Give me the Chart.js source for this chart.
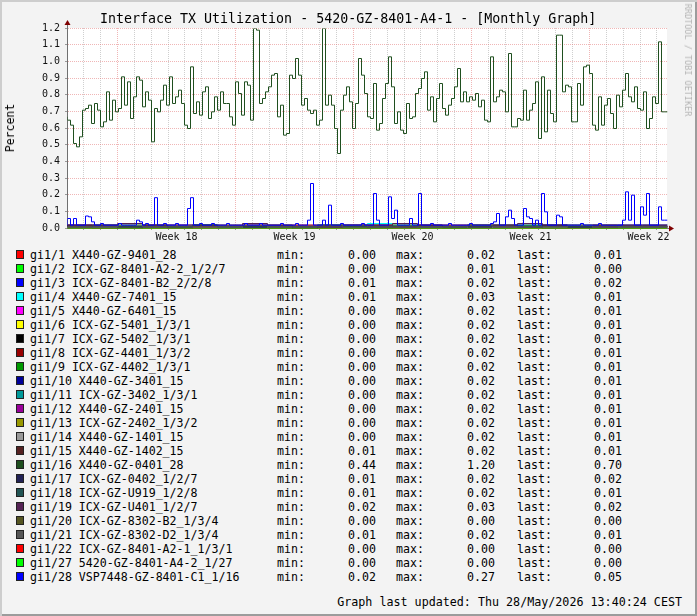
<!DOCTYPE html>
<html>
<head>
<meta charset="utf-8">
<script src="https://cdn.jsdelivr.net/npm/chart.js@4.4.1/dist/chart.umd.min.js"></script>
<style>
  html, body { margin: 0; padding: 0; background: #fff; }
  #frame {
    position: relative; width: 697px; height: 616px; overflow: hidden;
    background: #f3f3f3;
    box-shadow: inset 2px 2px 0 #cdcdcd, inset -2px -2px 0 #9c9c9c;
    font-family: "DejaVu Sans Mono", monospace; color: #000;
  }
  #plot { position: absolute; left: 0; top: 0; }
  .title { position: absolute; left: 100px; top: 10px; font-size: 13.3px; line-height: 18px; white-space: pre; }
  .vlabel { position: absolute; left: 10px; top: 128px; font-size: 11.5px; white-space: pre;
            transform: translate(-50%, -50%) rotate(-90deg); }
  .mark { position: absolute; left: 688px; top: 60px; font-size: 8.5px; color: #b4b4b4; white-space: pre;
          transform: translate(-50%, -50%) rotate(90deg); }
  .row { position: absolute; left: 0; height: 14px; width: 697px; font-size: 11.6px; line-height: 14px; white-space: pre; }
  .row span { position: absolute; top: 0; }
  .box { position: absolute; left: 16px; top: 2px; width: 8px; height: 9px; box-sizing: border-box; border: 1px solid #222; }
  .num { text-align: right; width: 60px; }
  .foot { position: absolute; right: 15px; top: 594px; font-size: 11.7px; line-height: 16px; white-space: pre; }
</style>
</head>
<body>
<div id="frame">
  <canvas id="plot" width="697" height="245"></canvas>
  <div class="title">Interface TX Utilization - 5420-GZ-8401-A4-1 - [Monthly Graph]</div>
  <div class="vlabel">Percent</div>
  <div class="mark">RRDTOOL / TOBI OETIKER</div>
  <div id="legend"></div>
  <div class="foot">Graph last updated: Thu 28/May/2026 13:40:24 CEST</div>
</div>
<script>
const weekLabels = ["Week 18", "Week 19", "Week 20", "Week 21", "Week 22"];
const spanDays = 35.6;   // days shown across the graph
const firstWeek = 3;     // days from graph start to the first week line

const ports = [
    "gi1/1 X440-GZ-9401_28", "gi1/2 ICX-GZ-8401-A2-2_1/2/7", "gi1/3 ICX-GZ-8401-B2_2/2/8",
    "gi1/4 X440-GZ-7401_15", "gi1/5 X440-GZ-6401_15", "gi1/6 ICX-GZ-5401_1/3/1",
    "gi1/7 ICX-GZ-5402_1/3/1", "gi1/8 ICX-GZ-4401_1/3/2", "gi1/9 ICX-GZ-4402_1/3/1",
    "gi1/10 X440-GZ-3401_15", "gi1/11 ICX-GZ-3402_1/3/1", "gi1/12 X440-GZ-2401_15",
    "gi1/13 ICX-GZ-2402_1/3/2", "gi1/14 X440-GZ-1401_15", "gi1/15 X440-GZ-1402_15",
    "gi1/16 X440-GZ-0401_28", "gi1/17 ICX-GZ-0402_1/2/7", "gi1/18 ICX-GZ-U919_1/2/8",
    "gi1/19 ICX-GZ-U401_1/2/7", "gi1/20 ICX-GZ-8302-B2_1/3/4", "gi1/21 ICX-GZ-8302-D2_1/3/4",
    "gi1/22 ICX-GZ-8401-A2-1_1/3/1", "gi1/27 5420-GZ-8401-A4-2_1/27", "gi1/28 VSP7448-GZ-8401-C1_1/16",
];
const minVals  = [0.00, 0.00, 0.01, 0.01, 0.00, 0.00, 0.00, 0.00, 0.00, 0.00, 0.00, 0.00, 0.00, 0.00, 0.01, 0.44, 0.01, 0.01, 0.02, 0.00, 0.01, 0.00, 0.00, 0.02];
const maxVals  = [0.02, 0.01, 0.02, 0.03, 0.02, 0.02, 0.02, 0.02, 0.02, 0.02, 0.02, 0.02, 0.02, 0.02, 0.02, 1.20, 0.02, 0.02, 0.03, 0.00, 0.02, 0.00, 0.00, 0.27];
const lastVals = [0.01, 0.00, 0.02, 0.01, 0.01, 0.01, 0.01, 0.01, 0.01, 0.01, 0.01, 0.01, 0.01, 0.01, 0.01, 0.70, 0.02, 0.01, 0.02, 0.00, 0.01, 0.00, 0.00, 0.05];

const gi1_1  = [0.01,0.01,0.00,0.01,0.02,0.01,0.01,0.00,0.01,0.01,0.02,0.01,0.01,0.01,0.00,0.01,0.01,0.02,0.01,0.01,0.00,0.01,0.01,0.01];
const gi1_2  = [0.00,0.00,0.01,0.00,0.00,0.00,0.01,0.00,0.00,0.00,0.00,0.01,0.00,0.00,0.00,0.00,0.01,0.00,0.00,0.00,0.00,0.01,0.00,0.00];
const gi1_3  = [0.01,0.02,0.01,0.01,0.02,0.01,0.01,0.01,0.02,0.01,0.01,0.02,0.01,0.01,0.01,0.02,0.01,0.01,0.01,0.02,0.01,0.01,0.01,0.02];
const gi1_4  = [0.01,0.01,0.02,0.01,0.01,0.01,0.02,0.01,0.01,0.01,0.01,0.02,0.01,0.03,0.01,0.01,0.01,0.02,0.01,0.01,0.01,0.02,0.01,0.01];
const gi1_5  = [0.01,0.00,0.01,0.01,0.01,0.02,0.01,0.00,0.01,0.01,0.01,0.01,0.02,0.01,0.00,0.01,0.01,0.01,0.02,0.01,0.01,0.00,0.01,0.01];
const gi1_6  = [0.01,0.01,0.01,0.02,0.00,0.01,0.01,0.01,0.01,0.02,0.01,0.00,0.01,0.01,0.01,0.01,0.02,0.01,0.01,0.00,0.01,0.01,0.02,0.01];
const gi1_7  = [0.01,0.01,0.00,0.01,0.01,0.01,0.02,0.01,0.01,0.01,0.00,0.01,0.01,0.02,0.01,0.01,0.00,0.01,0.01,0.01,0.02,0.01,0.01,0.01];
const gi1_8  = [0.01,0.02,0.01,0.01,0.01,0.00,0.01,0.01,0.02,0.01,0.01,0.01,0.01,0.00,0.01,0.02,0.01,0.01,0.01,0.01,0.00,0.01,0.02,0.01];
const gi1_9  = [0.00,0.01,0.01,0.01,0.00,0.01,0.02,0.01,0.01,0.00,0.01,0.01,0.01,0.01,0.02,0.01,0.00,0.01,0.01,0.02,0.01,0.01,0.00,0.01];
const gi1_10 = [0.01,0.01,0.01,0.00,0.01,0.02,0.01,0.01,0.01,0.01,0.00,0.01,0.02,0.01,0.01,0.01,0.01,0.00,0.01,0.01,0.02,0.01,0.01,0.01];
const gi1_11 = [0.01,0.00,0.01,0.02,0.01,0.01,0.01,0.00,0.01,0.01,0.01,0.02,0.01,0.00,0.01,0.01,0.01,0.01,0.02,0.01,0.00,0.01,0.01,0.01];
const gi1_12 = [0.01,0.01,0.02,0.01,0.01,0.00,0.01,0.01,0.01,0.02,0.01,0.01,0.00,0.01,0.01,0.01,0.02,0.01,0.01,0.01,0.00,0.01,0.01,0.01];
const gi1_13 = [0.00,0.01,0.01,0.01,0.02,0.01,0.01,0.01,0.00,0.01,0.01,0.02,0.01,0.01,0.01,0.00,0.01,0.02,0.01,0.01,0.01,0.00,0.01,0.01];
const gi1_14 = [0.01,0.01,0.01,0.01,0.01,0.02,0.01,0.01,0.00,0.01,0.01,0.01,0.01,0.02,0.01,0.01,0.01,0.00,0.01,0.01,0.01,0.02,0.01,0.01];
const gi1_15 = [0.01,0.01,0.02,0.01,0.01,0.01,0.01,0.02,0.01,0.01,0.01,0.01,0.01,0.02,0.01,0.01,0.01,0.01,0.02,0.01,0.01,0.01,0.01,0.01];
const gi1_16 = [
    0.67,0.65,0.62,0.51,0.49,0.55,0.71,0.72,0.74,0.63,
    0.75,0.71,0.61,0.64,0.82,0.65,0.77,0.70,0.72,0.91,
    0.74,0.88,0.66,0.79,0.91,0.89,0.73,0.82,0.77,0.52,
    0.72,0.70,0.77,0.86,0.74,0.91,0.75,0.79,0.83,0.75,
    0.62,0.60,0.97,0.69,0.76,0.68,0.82,0.85,0.66,0.70,
    0.79,0.71,0.82,0.75,0.75,0.67,0.62,0.88,0.81,0.68,
    0.88,0.86,0.65,1.20,1.19,0.75,0.78,0.82,0.85,0.92,
    0.93,0.67,0.74,0.56,0.57,0.92,0.90,1.02,0.92,0.74,
    0.78,0.71,0.69,0.71,0.62,0.65,1.20,0.74,0.80,0.74,
    0.60,0.45,0.71,0.80,0.85,0.76,0.60,0.75,1.02,0.92,
    0.81,0.67,0.66,0.87,0.59,0.63,0.78,0.87,1.03,0.85,
    0.63,0.70,0.59,0.57,0.75,0.66,0.67,0.81,0.84,0.90,
    0.94,0.71,0.79,0.64,0.78,0.87,0.72,0.68,0.74,0.78,
    0.85,0.96,0.76,0.82,0.76,0.79,0.77,0.81,0.73,0.77,
    0.65,0.64,1.03,0.76,0.79,0.83,0.82,0.70,1.05,0.61,
    0.61,0.66,0.65,0.83,0.65,0.71,0.75,0.88,0.54,0.91,
    0.58,0.83,0.69,0.64,1.16,1.16,0.82,0.86,0.85,0.64,
    0.64,0.87,0.74,0.97,0.98,0.93,0.62,0.59,0.79,0.62,
    0.74,0.78,0.69,0.60,0.80,0.73,0.83,0.93,0.79,0.76,
    0.85,0.72,0.71,0.82,0.60,0.66,0.79,0.75,1.12,0.70,
];
const gi1_17 = [0.01,0.02,0.01,0.01,0.02,0.01,0.02,0.01,0.01,0.02,0.01,0.01,0.02,0.01,0.01,0.02,0.01,0.02,0.01,0.01,0.02,0.01,0.01,0.02];
const gi1_18 = [0.01,0.01,0.02,0.01,0.01,0.01,0.02,0.01,0.01,0.01,0.01,0.02,0.01,0.01,0.02,0.01,0.01,0.01,0.02,0.01,0.01,0.01,0.02,0.01];
const gi1_19 = [0.02,0.02,0.02,0.03,0.02,0.02,0.02,0.02,0.03,0.02,0.02,0.02,0.02,0.02,0.03,0.02,0.02,0.02,0.02,0.03,0.02,0.02,0.02,0.02];
const gi1_20 = [0.00,0.00,0.00,0.00,0.00,0.00,0.00,0.00,0.00,0.00,0.00,0.00,0.00,0.00,0.00,0.00,0.00,0.00,0.00,0.00,0.00,0.00,0.00,0.00];
const gi1_21 = [0.01,0.01,0.01,0.02,0.01,0.01,0.01,0.01,0.02,0.01,0.01,0.01,0.02,0.01,0.01,0.01,0.01,0.02,0.01,0.01,0.01,0.02,0.01,0.01];
const gi1_22 = [0.00,0.00,0.00,0.00,0.00,0.00,0.00,0.00,0.00,0.00,0.00,0.00,0.00,0.00,0.00,0.00,0.00,0.00,0.00,0.00,0.00,0.00,0.00,0.00];
const gi1_27 = [0.00,0.00,0.00,0.00,0.00,0.00,0.00,0.00,0.00,0.00,0.00,0.00,0.00,0.00,0.00,0.00,0.00,0.00,0.00,0.00,0.00,0.00,0.00,0.00];
const gi1_28 = [
    0.02,0.06,0.02,0.06,0.02,0.02,0.02,0.075,0.07,0.04,
    0.02,0.02,0.03,0.02,0.02,0.02,0.02,0.02,0.03,0.02,
    0.02,0.02,0.02,0.02,0.05,0.04,0.02,0.03,0.02,0.02,
    0.185,0.02,0.02,0.03,0.02,0.02,0.02,0.03,0.02,0.02,
    0.02,0.12,0.185,0.02,0.02,0.03,0.02,0.02,0.02,0.03,
    0.02,0.02,0.02,0.02,0.03,0.02,0.02,0.02,0.02,0.02,
    0.03,0.02,0.02,0.02,0.02,0.03,0.02,0.02,0.02,0.02,
    0.02,0.02,0.03,0.02,0.02,0.02,0.02,0.03,0.02,0.02,
    0.02,0.05,0.27,0.02,0.02,0.02,0.05,0.02,0.14,0.02,
    0.02,0.02,0.03,0.02,0.02,0.02,0.02,0.02,0.02,0.03,
    0.02,0.02,0.02,0.21,0.05,0.02,0.02,0.02,0.19,0.06,
    0.11,0.02,0.02,0.02,0.02,0.06,0.02,0.02,0.21,0.02,
    0.02,0.02,0.03,0.02,0.02,0.02,0.02,0.02,0.03,0.02,
    0.02,0.02,0.02,0.02,0.02,0.03,0.02,0.02,0.02,0.02,
    0.02,0.02,0.03,0.04,0.09,0.02,0.02,0.07,0.11,0.06,
    0.02,0.02,0.02,0.12,0.07,0.06,0.02,0.05,0.02,0.21,
    0.10,0.02,0.02,0.02,0.08,0.07,0.02,0.02,0.02,0.02,
    0.02,0.02,0.03,0.02,0.02,0.02,0.02,0.02,0.03,0.02,
    0.02,0.02,0.02,0.02,0.02,0.02,0.05,0.22,0.05,0.20,
    0.02,0.02,0.13,0.08,0.21,0.02,0.02,0.02,0.13,0.05,
];

const series = [gi1_1, gi1_2, gi1_3, gi1_4, gi1_5, gi1_6, gi1_7, gi1_8, gi1_9, gi1_10, gi1_11, gi1_12,
                gi1_13, gi1_14, gi1_15, gi1_16, gi1_17, gi1_18, gi1_19, gi1_20, gi1_21, gi1_22, gi1_27, gi1_28];

const colors = [
    "#ff0000", "#00ff00", "#0000ff", "#00ffff", "#ff00ff", "#ffff00", "#000000", "#990000",
    "#009900", "#000099", "#009999", "#990099", "#999900", "#999999", "#552222", "#1f4f1f",
    "#222255", "#225555", "#552255", "#555522", "#555555", "#ff0000", "#00ff00", "#0000ff",
];

// rrd style step line: each value holds until the next one
const toPoints = (vals) => {
    const step = spanDays / vals.length;
    const pts = vals.map((v, i) => ({ x: i * step, y: v }));
    pts.push({ x: spanDays, y: vals[vals.length - 1] });
    return pts;
};

// day lines, week lines and a label in the middle of every week
const xTicks = [];
for (let d = 1; d < spanDays; d++) xTicks.push(d);
weekLabels.forEach((_, k) => xTicks.push(firstWeek + 7 * k + 3.5));
xTicks.sort((a, b) => a - b);

const isWeekLine = (v) => Number.isInteger(v) && (v - firstWeek) % 7 === 0;
const weekLabelAt = (v) => {
    const k = (v - firstWeek - 3.5) / 7;
    return Number.isInteger(k) && weekLabels[k] ? weekLabels[k] : "";
};

const rrdFrame = {
    id: "rrdFrame",
    beforeDraw(chart) {
        const { ctx, chartArea: a } = chart;
        ctx.save();
        ctx.fillStyle = "#ffffff";
        ctx.fillRect(a.left, a.top, a.right - a.left, a.bottom - a.top);
        ctx.restore();
    },
    // put the 1px lines on pixel centres so they stay sharp
    beforeDatasetsDraw(chart) {
        chart.ctx.save();
        chart.ctx.translate(0.5, 0.5);
    },
    afterDatasetsDraw(chart) {
        chart.ctx.restore();
    },
    afterDraw(chart) {
        const { ctx, chartArea: a } = chart;
        const x0 = Math.round(a.left) + 0.5;
        const y0 = Math.round(a.bottom) + 0.5;
        ctx.save();
        ctx.strokeStyle = "#707070";
        ctx.lineWidth = 1;
        ctx.beginPath();
        ctx.moveTo(x0, a.top);
        ctx.lineTo(x0, a.top - 4);
        ctx.moveTo(a.right, y0);
        ctx.lineTo(a.right + 4, y0);
        ctx.stroke();
        ctx.fillStyle = "#7f0000";
        ctx.beginPath();
        ctx.moveTo(x0 - 3, a.top - 3);
        ctx.lineTo(x0 + 3, a.top - 3);
        ctx.lineTo(x0, a.top - 8);
        ctx.closePath();
        ctx.fill();
        ctx.beginPath();
        ctx.moveTo(a.right + 2, y0 - 3);
        ctx.lineTo(a.right + 2, y0 + 3);
        ctx.lineTo(a.right + 7, y0);
        ctx.closePath();
        ctx.fill();
        ctx.restore();
    },
};

new Chart(document.getElementById("plot").getContext("2d"), {
    type: "line",
    data: {
        datasets: series.map((vals, i) => ({
            label: ports[i],
            data: toPoints(vals),
            borderColor: colors[i],
            backgroundColor: colors[i],
            borderWidth: 1,
            pointRadius: 0,
            stepped: "after",
            fill: false,
            order: series.length - i,
        })),
    },
    options: {
        responsive: false,
        animation: false,
        layout: { padding: { left: 0, top: 28, right: 30, bottom: 0 } },
        scales: {
            x: {
                type: "linear",
                min: 0,
                max: spanDays,
                afterBuildTicks: (scale) => {
                    scale.ticks = xTicks.map((v) => ({ value: v }));
                },
                afterFit: (scale) => {
                    scale.height = 17;
                },
                grid: {
                    color: (ctx) => isWeekLine(ctx.tick.value) ? "rgba(225,110,110,0.5)"
                        : Number.isInteger(ctx.tick.value) ? "rgba(175,175,175,0.6)" : "rgba(0,0,0,0)",
                    tickColor: (ctx) => Number.isInteger(ctx.tick.value) ? "#9a9a9a" : "rgba(0,0,0,0)",
                    tickLength: 2,
                    tickBorderDash: [],
                },
                border: { color: "#707070", width: 1, dash: [1, 1] },
                ticks: {
                    autoSkip: false,
                    maxRotation: 0,
                    padding: 1,
                    color: "#111",
                    font: { family: "DejaVu Sans Mono", size: 10 },
                    callback: (value) => weekLabelAt(value),
                },
            },
            y: {
                min: 0,
                max: 1.2,
                afterFit: (scale) => {
                    scale.width = 67;
                },
                grid: {
                    color: "rgba(225,110,110,0.5)",
                    tickColor: "#9a9a9a",
                    tickLength: 2,
                    tickBorderDash: [],
                },
                border: { color: "#707070", width: 1, dash: [1, 1] },
                ticks: {
                    stepSize: 0.1,
                    padding: 5,
                    color: "#111",
                    font: { family: "DejaVu Sans Mono", size: 10 },
                    callback: (value) => value.toFixed(1),
                },
            },
        },
        plugins: {
            legend: { display: false },
            tooltip: { enabled: false },
        },
    },
    plugins: [rrdFrame],
});

// rrd style legend table under the graph
const legend = document.getElementById("legend");
ports.forEach((name, i) => {
    const row = document.createElement("div");
    row.className = "row";
    row.style.top = (248 + 14 * i) + "px";
    row.innerHTML =
        '<div class="box" style="background:' + colors[i] + '"></div>' +
        '<span style="left:30px">' + name + "</span>" +
        '<span style="left:277px">min:</span>' +
        '<span class="num" style="left:316px">' + minVals[i].toFixed(2) + "</span>" +
        '<span style="left:396px">max:</span>' +
        '<span class="num" style="left:435px">' + maxVals[i].toFixed(2) + "</span>" +
        '<span style="left:517px">last:</span>' +
        '<span class="num" style="left:562px">' + lastVals[i].toFixed(2) + "</span>";
    legend.appendChild(row);
});
</script>
</body>
</html>
